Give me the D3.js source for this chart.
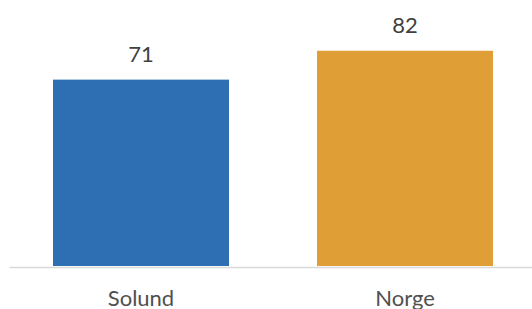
<!DOCTYPE html>
<html lang="no">
    <head>
        <title>Solund vs Norge</title>
        <script src="https://d3js.org/d3.v7.min.js"></script>
        <style>
            body { margin: 0; background: #fff; }
        </style>
    </head>
    <body>
    <div id="mainDiv"></div>
        <script type="text/javascript">
            const categories = ['Solund', 'Norge']
            const values = [71, 82]
            const colours = ['#2E6FB4', '#E09E36']

            const width = 532
            const height = 309

            const svg = d3.select('#mainDiv').append('svg')
                .attr('width', width)
                .attr('height', height)

            const xScale = d3.scaleBand()
                .domain(categories)
                .range([9, 537])
                .paddingInner(1 / 3)
                .paddingOuter(1 / 6)

            const yScale = d3.scaleLinear()
                .domain([0, 100])
                .range([266, 3.5])

            // bars
            svg.selectAll('rect.bar')
                .data(values)
                .join('rect')
                .attr('class', 'bar')
                .attr('x', (d, i) => xScale(categories[i]))
                .attr('y', d => yScale(d))
                .attr('width', xScale.bandwidth())
                .attr('height', d => yScale(0) - yScale(d))
                .style('fill', (d, i) => colours[i])

            // value labels
            svg.selectAll('text.value')
                .data(values)
                .join('text')
                .attr('class', 'value')
                .attr('x', (d, i) => xScale(categories[i]) + xScale.bandwidth() / 2)
                .attr('y', d => yScale(d) - 18)
                .attr('text-anchor', 'middle')
                .style('font-family', 'Lato, sans-serif')
                .style('font-size', '22px')
                .style('fill', '#404040')
                .text(d => d)

            // x axis
            const xAxis = d3.axisBottom(xScale).tickSize(0).tickPadding(23)
            const xAxisPlot = svg.append('g')
                .attr('transform', `translate(0, ${yScale(0) + 1})`)
                .call(xAxis)
            xAxisPlot.select('.domain')
                .attr('stroke', '#D9D9D9')
                .attr('stroke-width', 1.5)
            xAxisPlot.selectAll('.tick text')
                .style('font-family', 'Lato, sans-serif')
                .style('font-size', '22px')
                .style('fill', '#505050')
                .attr('dy', '0.71em')
        </script>
    </body>
</html>
